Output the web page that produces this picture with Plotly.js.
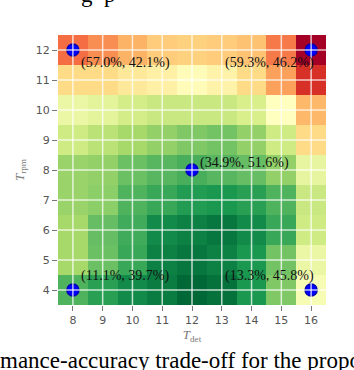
<!DOCTYPE html>
<html>
<head>
<meta charset="utf-8">
<script src="https://cdn.plot.ly/plotly-3.0.1.min.js"></script>
<style>
  html, body { margin: 0; padding: 0; background: #fff; }
  #chart { width: 354px; height: 370px; }
</style>
</head>
<body>
<div id="chart"></div>
<script>
// grid axes
const tDet = [8, 9, 10, 11, 12, 13, 14, 15, 16];
const tRpm = [4, 5, 6, 7, 8, 9, 10, 11, 12];

// cell values (0 = best / dark green, 1 = worst / dark red), one row per T_rpm
const row4  = [0.17, 0.12, 0.07, 0.04, 0.00, 0.02, 0.10, 0.24, 0.48];
const row5  = [0.30, 0.21, 0.14, 0.05, 0.03, 0.05, 0.10, 0.22, 0.45];
const row6  = [0.30, 0.20, 0.15, 0.07, 0.05, 0.03, 0.07, 0.14, 0.38];
const row7  = [0.28, 0.26, 0.17, 0.14, 0.11, 0.10, 0.12, 0.17, 0.37];
const row8  = [0.28, 0.27, 0.21, 0.18, 0.16, 0.18, 0.20, 0.27, 0.44];
const row9  = [0.38, 0.34, 0.30, 0.27, 0.24, 0.22, 0.27, 0.38, 0.61];
const row10 = [0.45, 0.43, 0.39, 0.37, 0.37, 0.37, 0.40, 0.50, 0.68];
const row11 = [0.61, 0.61, 0.57, 0.55, 0.51, 0.54, 0.61, 0.72, 0.90];
const row12 = [0.80, 0.75, 0.69, 0.64, 0.63, 0.64, 0.66, 0.78, 1.00];

// highlighted configurations
const pickX = [8, 16, 12, 8, 16];
const pickY = [12, 12, 8, 4, 4];
const pickLabels = ["(57.0%, 42.1%)", "(59.3%, 46.2%)", "(34.9%, 51.6%)",
                    "(11.1%, 39.7%)", "(13.3%, 45.8%)"];

const rdYlGnRev = [
    [0.0, "#006837"], [0.1, "#1a9850"], [0.2, "#66bd63"], [0.3, "#a6d96a"],
    [0.4, "#d9ef8b"], [0.5, "#ffffbf"], [0.6, "#fee08b"], [0.7, "#fdae61"],
    [0.8, "#f46d43"], [0.9, "#d73027"], [1.0, "#a50026"]
];

const heat = {
    type: "heatmap",
    x: tDet,
    y: tRpm,
    z: [row4, row5, row6, row7, row8, row9, row10, row11, row12],
    zmin: 0,
    zmax: 1,
    colorscale: rdYlGnRev,
    showscale: false,
    hoverinfo: "skip"
};

const picks = {
    type: "scatter",
    mode: "markers",
    x: pickX,
    y: pickY,
    marker: { size: 12, color: "#0000ff", line: { color: "#0000b4", width: 1.5 } },
    hoverinfo: "skip"
};

// label placement: left column / centre start just right of the point,
// right column labels end on the point; top ones sit below, others above
const labelNotes = pickLabels.map((txt, i) => {
    const x = pickX[i];
    const y = pickY[i];
    const onRight = x === 16;
    let dy = 0.23;
    if (y === 12) dy = -0.42;
    if (y === 4) dy = 0.47;
    return {
        x: onRight ? x - 2.97 : x + 0.19,
        y: y + dy,
        xref: "x", yref: "y",
        text: txt,
        showarrow: false,
        xanchor: "left",
        yanchor: "middle",
        font: { family: "Liberation Serif, serif", size: 14, color: "#111" }
    };
});

const gridStyle = { color: "rgba(255,255,255,0.75)", width: 1.5 };
const gridLines = [
    ...tDet.map(v => ({ type: "line", xref: "x", yref: "paper", x0: v, x1: v, y0: 0, y1: 1, line: gridStyle, layer: "above" })),
    ...tRpm.map(v => ({ type: "line", xref: "paper", yref: "y", x0: 0, x1: 1, y0: v, y1: v, line: gridStyle, layer: "above" }))
];

const captionFont = { family: "Liberation Serif, serif", size: 23, color: "#000" };

const notes = labelNotes.concat([
    {
        xref: "paper", yref: "paper", x: -0.225, y: -0.152,
        xanchor: "left", yanchor: "top", showarrow: false,
        text: "mance-accuracy trade-off for the propo",
        font: captionFont
    },
    {
        xref: "paper", yref: "paper", x: 0.08, y: 1.097,
        xanchor: "left", yanchor: "bottom", showarrow: false,
        text: "g  p",
        font: captionFont
    }
]);

const axisCommon = {
    showgrid: false,
    zeroline: false,
    showline: false,
    ticks: "outside",
    ticklen: 5,
    tickwidth: 1,
    tickcolor: "#777",
    tickfont: { family: "DejaVu Sans, sans-serif", size: 11, color: "#555" },
    fixedrange: true
};

const layout = {
    width: 354,
    height: 370,
    margin: { l: 58, r: 28, t: 35, b: 65 },
    paper_bgcolor: "#fff",
    plot_bgcolor: "#fff",
    showlegend: false,
    xaxis: Object.assign({}, axisCommon, {
        range: [7.5, 16.5],
        tickvals: tDet,
        title: { text: "<i>T</i><sub>det</sub>", standoff: 2,
                 font: { family: "Liberation Serif, serif", size: 13, color: "#777" } }
    }),
    yaxis: Object.assign({}, axisCommon, {
        range: [3.5, 12.5],
        tickvals: tRpm,
        title: { text: "<i>T</i><sub>rpm</sub>", standoff: 8,
                 font: { family: "Liberation Serif, serif", size: 13, color: "#777" } }
    }),
    shapes: gridLines,
    annotations: notes
};

Plotly.newPlot("chart", [heat, picks], layout, { displayModeBar: false, staticPlot: true });
</script>
</body>
</html>
